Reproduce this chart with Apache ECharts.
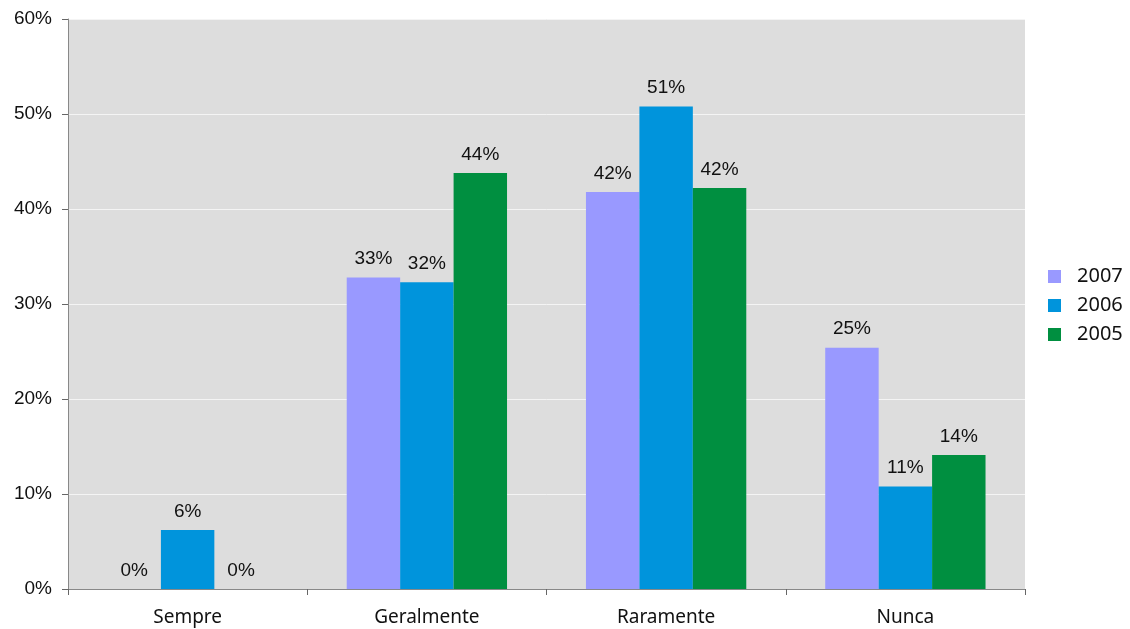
<!DOCTYPE html>
<html><head><meta charset="utf-8">
<script src="https://cdn.jsdelivr.net/npm/echarts@6/dist/echarts.min.js"></script>
<style>html,body{margin:0;padding:0;background:#fff}#c{width:1130px;height:629px}</style>
</head><body><div id="c"></div>
<script>
const categories = ['Sempre', 'Geralmente', 'Raramente', 'Nunca'];
const s2007 = [0, 32.8, 41.8, 25.4];
const s2006 = [6.2, 32.3, 50.8, 10.8];
const s2005 = [0, 43.8, 42.2, 14.1];
const seriesNames = ['2007', '2006', '2005'];
const colors = ['#9999FF', '#0094DC', '#008F40'];
const yTicks = [0, 10, 20, 30, 40, 50, 60];

const fontA = 'Liberation Sans, Arial, sans-serif';
const fontB = 'Noto Sans, Open Sans, sans-serif';
const chart = echarts.init(document.getElementById('c'));
const mk = (name, data, color) => ({
  name, type: 'bar', data, barGap: '0%', barCategoryGap: '33%',
  itemStyle: { color },
  label: { show: true, position: 'top', distance: 9, formatter: p => Math.round(p.value) + '%', fontSize: 19, color: '#111', fontFamily: fontA }
});
chart.setOption({
  animation: false,
  color: colors,
  grid: { left: 68, right: 105, top: 19, bottom: 40, show: true, backgroundColor: '#DDDDDD', borderWidth: 0 },
  legend: {
    orient: 'vertical', left: 1043, top: 261, itemWidth: 13, itemHeight: 13, itemGap: 8,
    icon: 'rect', data: seriesNames,
    textStyle: { fontSize: 20, lineHeight: 21, color: '#111', fontFamily: fontB, padding: [0, 0, 0, 11] }
  },
  xAxis: {
    type: 'category', data: categories,
    axisLine: { lineStyle: { color: '#888' } },
    axisTick: { show: true, length: 6, lineStyle: { color: '#666' } },
    axisLabel: { fontSize: 19, color: '#111', margin: 19, fontFamily: fontB }
  },
  yAxis: {
    type: 'value', min: yTicks[0], max: yTicks[yTicks.length - 1], interval: 10,
    axisLine: { show: true, lineStyle: { color: '#888' } },
    axisTick: { show: true, length: 6, lineStyle: { color: '#666' } },
    axisLabel: { formatter: '{value}%', fontSize: 19, color: '#111', margin: 16, fontFamily: fontA },
    splitLine: { lineStyle: { color: '#F4F4F4', width: 1 } }
  },
  series: [mk(seriesNames[0], s2007, colors[0]), mk(seriesNames[1], s2006, colors[1]), mk(seriesNames[2], s2005, colors[2])]
});
</script></body></html>
